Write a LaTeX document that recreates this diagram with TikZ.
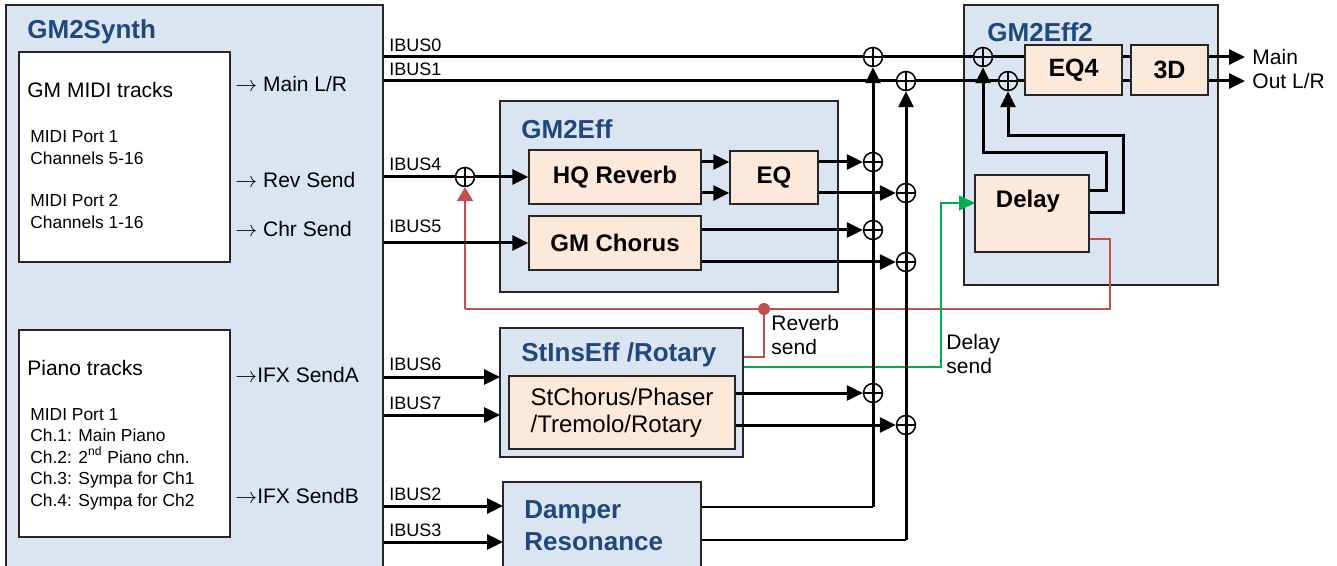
\documentclass[tikz,border=0pt]{standalone}
\usepackage{fontspec}
\setmainfont{Liberation Sans}
\usetikzlibrary{arrows.meta}
\definecolor{panelblue}{RGB}{219,229,241}
\definecolor{titleblue}{RGB}{31,73,125}
\definecolor{fxpeach}{RGB}{253,233,217}
\definecolor{sendred}{RGB}{192,80,77}
\definecolor{sendgreen}{RGB}{0,176,80}
\begin{document}
\begin{tikzpicture}[x=0.5pt,y=-0.5pt,
 panel/.style={draw=black!85,line width=0.7pt,fill=panelblue},
 trk/.style={draw=black!85,line width=0.7pt,fill=white},
 fx/.style={draw=black!85,line width=0.7pt,fill=fxpeach,font=\fontsize{12}{14}\bfseries},
 ttl/.style={anchor=west,inner sep=0,text=titleblue,font=\fontsize{13}{16}\bfseries},
 txt/.style={anchor=west,inner sep=0,font=\fontsize{10.5}{12}\selectfont},
 small/.style={anchor=west,inner sep=0,align=left,font=\fontsize{8.7}{11}\selectfont},
 ibus/.style={anchor=base west,inner sep=0,font=\fontsize{9}{10}\selectfont},
 bus/.style={line width=1.5pt},
 busarr/.style={bus,-{Triangle[length=8pt,width=7.5pt]}},
 sum/.style={circle,draw,line width=0.75pt,minimum size=9.5pt,inner sep=0,
  path picture={\draw[line width=0.75pt] (path picture bounding box.north) -- (path picture bounding box.south)
   (path picture bounding box.west) -- (path picture bounding box.east);}}]
 \useasboundingbox (0,0) rectangle (1337,566);
 \clip (0,0) rectangle (1337,566);
 % synth panel with its track groups
 \node[panel,minimum width=188.5pt,minimum height=297.5pt] (synth) at (194.5,302.5) {};
 \node[ttl] (synthttl) at (27,32) {GM2Synth};
 \node[trk,minimum width=105.5pt,minimum height=105pt] (gmtr) at (124.5,157) {};
 \node[txt] (gmttl) at (27,90) {GM MIDI tracks};
 \node[small] (gmp1) at (30,148) {MIDI Port 1\\Channels 5-16};
 \node[small] (gmp2) at (30,212) {MIDI Port 2\\Channels 1-16};
 \node[trk,minimum width=105.5pt,minimum height=103.5pt] (pno) at (124.5,433.5) {};
 \node[txt] (pnottl) at (27,368) {Piano tracks};
 \node[small,font=\fontsize{8.7}{10.75}\selectfont] (pnolst) at (30,459)
  {MIDI Port 1\\Ch.1: Main Piano\\Ch.2: 2\textsuperscript{nd} Piano chn.\\Ch.3: Sympa for Ch1\\Ch.4: Sympa for Ch2};
 \node[txt] (smain) at (235,84) {$\rightarrow$ Main L/R};
 \node[txt] (srev) at (235,180) {$\rightarrow$ Rev Send};
 \node[txt] (schr) at (235,229) {$\rightarrow$ Chr Send};
 \node[txt] (sifa) at (235,375) {$\rightarrow$IFX SendA};
 \node[txt] (sifb) at (235,496) {$\rightarrow$IFX SendB};
 % effect panels
 \node[panel,minimum width=169pt,minimum height=95.5pt] (eff) at (669,196.5) {};
 \node[ttl] (effttl) at (521,129) {GM2Eff};
 \node[fx,minimum width=86pt,minimum height=27pt] (rev) at (615,177) {HQ Reverb};
 \node[fx,minimum width=44pt,minimum height=26.5pt] (eq) at (774,177.5) {EQ};
 \node[fx,minimum width=86pt,minimum height=27pt] (chr) at (615,243) {GM Chorus};
 \node[panel,minimum width=121.5pt,minimum height=64.5pt] (ins) at (621.5,392.5) {};
 \node[ttl] (insttl) at (521,355) {StInsEff /Rotary};
 \node[fx,font=\fontsize{12}{13.5}\selectfont,align=left,minimum width=113pt,minimum height=36.5pt] (stc) at (622,412.5)
  {StChorus/Phaser\\/Tremolo/Rotary};
 \node[panel,minimum width=99pt,minimum height=59pt] (dmp) at (602,541) {};
 \node[ttl,align=left] (dmpttl) at (524,526) {Damper\\Resonance};
 \node[panel,minimum width=127pt,minimum height=140pt] (eff2) at (1091,145) {};
 \node[ttl] (eff2ttl) at (987,32) {GM2Eff2};
 \node[fx,font=\fontsize{12.5}{14}\bfseries,minimum width=48.5pt,minimum height=25pt] (eqf) at (1073.5,70) {EQ4};
 \node[fx,font=\fontsize{12.5}{14}\bfseries,minimum width=38.5pt,minimum height=25pt] (thd) at (1169.5,70) {3D};
 \node[fx,minimum width=57pt,minimum height=38.5pt] (dly) at (1032,213.5) {};
 \node[font=\fontsize{12}{14}\bfseries] (dlyttl) at (1028,201) {Delay};
 \node[txt,inner sep=3.5pt] (mainout) at (1245,57) {Main};
 \node[txt,inner sep=3.5pt] (outlr) at (1245,81) {Out L/R};
 % summing points
 \foreach \n/\x/\y in {s0a/873/57, s1a/906/81, s0b/983/57, s1b/1008/81, s4/465/177,
  sr1/873/162, sr2/906/193, sc1/873/230, sc2/906/262, si1/873/393, si2/906/425}
  \node[sum] (\n) at (\x,\y) {};
 \foreach \lab/\y in {IBUS0/52, IBUS1/76, IBUS4/171, IBUS5/233, IBUS6/371, IBUS7/409, IBUS2/500, IBUS3/536}
  \node[ibus] (l\lab) at (389,\y) {\lab};
 \coordinate (in6) at (500,377);
 \coordinate (in7) at (500,415);
 \coordinate (in2) at (503,506);
 \coordinate (in3) at (503,542);
 \coordinate (j0) at (873,507);
 \coordinate (j1) at (906,540);
 \coordinate (fb0) at (1106,191);
 \coordinate (fb0a) at (1106,153);
 \coordinate (fb1) at (1123,213);
 \coordinate (fb1a) at (1123,136);
 \coordinate (gsend) at (941,367);
 \coordinate (dlyin) at (975,203);
 \coordinate (rtap) at (764,309);
 \coordinate (rins) at (764,357);
 \coordinate (rdly) at (1110,239);
 % sends
 \draw[sendred,line width=0.8pt] (dly.east |- rdly) -- (rdly) |- (rtap) -- (s4 |- rtap);
 \draw[sendred,line width=1.3pt,-{Triangle[length=7pt,width=8pt]}] (s4 |- rtap) -- (s4);
 \draw[sendred,line width=1.3pt] (rtap) -- (rins) -- (ins.east |- rins);
 \node[circle,fill=sendred,minimum size=6pt,inner sep=0] (rdot) at (rtap) {};
 \node[txt,align=left,font=\fontsize{10.5}{12}\selectfont] (rsend) at (771,335) {Reverb\\send};
 \draw[sendgreen,line width=0.8pt,-{Triangle[length=8pt,width=7.5pt]}] (ins.east |- gsend) -- (gsend) |- (dlyin);
 \node[txt,align=left,font=\fontsize{10.5}{12}\selectfont] (dsend) at (946,354) {Delay\\send};
 % buses
 \draw[bus] (synth.east |- s0a) -- (s0a) -- (s0b) -- (eqf.west |- s0b);
 \draw[bus] (synth.east |- s1a) -- (s1a) -- (s1b) -- (eqf.west |- s1b);
 \draw[bus] (eqf.east |- s0b) -- (thd.west |- s0b);
 \draw[bus] (eqf.east |- s1b) -- (thd.west |- s1b);
 \draw[busarr] (thd.east |- mainout.west) -- (mainout.west);
 \draw[busarr] (thd.east |- outlr.west) -- (outlr.west);
 \draw[bus] (synth.east |- s4) -- (s4);
 \draw[busarr] (s4) -- (rev);
 \draw[busarr] (synth.east |- chr.west) -- (chr.west);
 \draw[busarr] (synth.east |- in6) -- (in6);
 \draw[busarr] (synth.east |- in7) -- (in7);
 \draw[busarr] (synth.east |- in2) -- (in2);
 \draw[busarr] (synth.east |- in3) -- (in3);
 \draw[busarr] (rev.east |- sr1) -- (eq.west |- sr1);
 \draw[busarr] (rev.east |- sr2) -- (eq.west |- sr2);
 \draw[busarr] (eq.east |- sr1) -- (sr1);
 \draw[busarr] (eq.east |- sr2) -- (sr2);
 \draw[busarr] (chr.east |- sc1) -- (sc1);
 \draw[busarr] (chr.east |- sc2) -- (sc2);
 \draw[busarr] (stc.east |- si1) -- (si1);
 \draw[busarr] (stc.east |- si2) -- (si2);
 \draw[line width=0.6pt] (dmp.east |- j0) -- (j0);
 \draw[line width=0.6pt] (dmp.east |- j1) -- (j1);
 \draw[busarr] (j0) -- (s0a);
 \draw[busarr] (j1) -- (s1a);
 \draw[busarr] (dly.east |- fb0) -| (fb0a) -| (s0b);
 \draw[busarr] (dly.east |- fb1) -| (fb1a) -| (s1b);
\end{tikzpicture}
\end{document}
